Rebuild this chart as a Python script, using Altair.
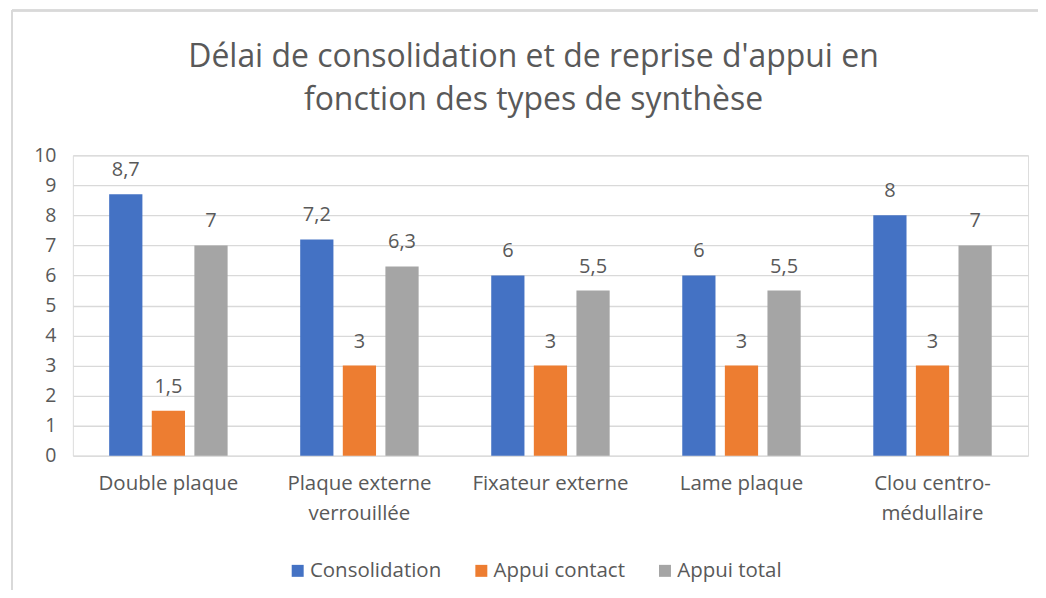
import altair as alt
import pandas as pd

categories = ["Double plaque", "Plaque externe verrouillée", "Fixateur externe", "Lame plaque", "Clou centro-médullaire"]
series = ["Consolidation", "Appui contact", "Appui total"]
consolidation = [8.7, 7.2, 6, 6, 8]
appui_contact = [1.5, 3, 3, 3, 3]
appui_total = [7, 6.3, 5.5, 5.5, 7]
colors = ["#4472C4", "#ED7D31", "#A5A5A5"]

rows = []
for i, c in enumerate(categories):
    for s, vals in zip(series, [consolidation, appui_contact, appui_total]):
        v = vals[i]
        lab = (str(v).replace(".", ",") if v != int(v) else str(int(v)))
        rows.append({"cat": c, "serie": s, "val": v, "lab": lab})
df = pd.DataFrame(rows)

FONT = "Open Sans"
GREY = "#595959"
FS = 20.5

label_expr = ("datum.label == 'Plaque externe verrouillée' ? ['Plaque externe', 'verrouillée'] : "
              "datum.label == 'Clou centro-médullaire' ? ['Clou centro-', 'médullaire'] : datum.label")

x = alt.X("cat:N", sort=categories, title=None,
          scale=alt.Scale(paddingInner=0.38, paddingOuter=0.19),
          axis=alt.Axis(labelAngle=0, labelExpr=label_expr, labelFont=FONT, labelFontSize=FS,
                        labelColor=GREY, labelPadding=18, labelLineHeight=30,
                        domain=False, ticks=False, labelBaseline="top"))
xo = alt.XOffset("serie:N", sort=series, scale=alt.Scale(paddingInner=0.22, paddingOuter=0))
y = alt.Y("val:Q", title=None,
          scale=alt.Scale(domain=[0, 10], nice=False),
          axis=alt.Axis(values=list(range(0, 11)), labelOverlap=False, labelFont=FONT, labelFontSize=19.5,
                        labelColor=GREY, labelPadding=17, domain=False, ticks=False,
                        gridColor="#D9D9D9", gridWidth=1.3))
color = alt.Color("serie:N", sort=series, scale=alt.Scale(domain=series, range=colors),
                  legend=alt.Legend(orient="none", legendX=215, legendY=406, direction="horizontal",
                                    title=None, symbolType="square", symbolSize=144, symbolStrokeWidth=0,
                                    labelFont=FONT, labelFontSize=FS, labelColor=GREY,
                                    columnPadding=29, labelOffset=2))

base = alt.Chart(df)
bars = base.mark_bar().encode(x=x, xOffset=xo, y=y, color=color)
texts = base.mark_text(font=FONT, fontSize=20, color=GREY, baseline="bottom", dy=-14).encode(
    x=x, xOffset=xo, y=y, text="lab:N")

border_left = base.mark_rule(color="#D9D9D9", strokeWidth=1.5).encode(
    x=alt.value(-61), y=alt.value(-145), y2=alt.value(440))
border_top = base.mark_rule(color="#D9D9D9", strokeWidth=1.5).encode(
    x=alt.value(-61), x2=alt.value(1000), y=alt.value(-145))

chart = alt.layer(border_left, border_top, bars, texts).properties(
    width=957, height=301,
    autosize=alt.AutoSizeParams(type="none"),
    padding={"left": 65, "top": 147, "right": 10, "bottom": 134},
    title=alt.TitleParams(["Délai de consolidation et de reprise d'appui en", "fonction des types de synthèse"],
                          font=FONT, fontSize=32, fontWeight="normal", color=GREY,
                          anchor="middle", lineHeight=43, offset=-107, dx=-17),
).configure_view(stroke=None).configure(background="white")

chart.save("out.html", embed_options={"renderer": "svg", "actions": False})
